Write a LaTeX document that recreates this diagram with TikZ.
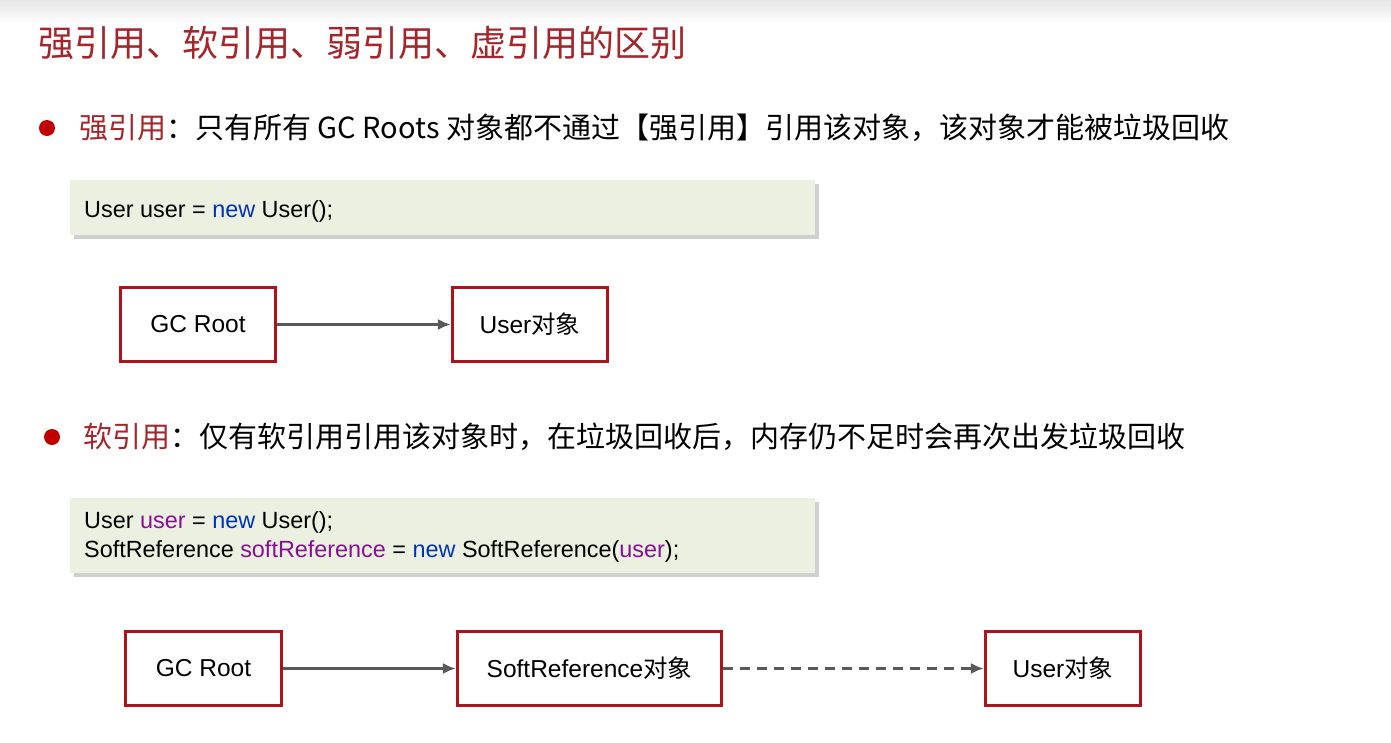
\documentclass[tikz,border=0pt]{standalone}
\usepackage{fontspec}
\setmainfont{Liberation Sans}
\newfontfamily\cjk{Noto Sans CJK SC}
\usetikzlibrary{arrows.meta}
\definecolor{titlered}{HTML}{A3262B}
\definecolor{dotred}{HTML}{C00000}
\definecolor{boxred}{HTML}{B0121B}
\definecolor{arrowgray}{HTML}{595959}
\definecolor{codebg}{HTML}{EBF0E0}
\definecolor{kwblue}{HTML}{0033B3}
\definecolor{varpurple}{HTML}{871094}
\tikzset{
  titletext/.style={anchor=west, inner sep=0pt, text=titlered, font=\cjk\fontsize{36}{40}\selectfont},
  bullettext/.style={anchor=west, inner sep=0pt, font=\cjk\fontsize{29}{34}\selectfont},
  codetext/.style={anchor=west, inner sep=0pt, font=\fontsize{23.4}{26}\selectfont},
  refbox/.style={draw=boxred, line width=3.2pt, fill=white, minimum height=74pt, inner sep=0pt, font=\fontsize{24.5}{28}\selectfont},
  codebox/.style={fill=codebg, draw=none},
  refarrow/.style={draw=arrowgray, line width=3pt, -{Latex[length=13pt,width=11pt]}},
  dot/.style={circle, fill=dotred, minimum size=16pt, inner sep=0pt}
}
\newcommand{\kw}[1]{\textcolor{kwblue}{#1}}
\newcommand{\var}[1]{\textcolor{varpurple}{#1}}
\begin{document}
\begin{tikzpicture}[x=1pt,y=-1pt]
\useasboundingbox (0,0) rectangle (1391,742);
\fill[white] (0,0) rectangle (1391,742);
\shade[top color=black!10, bottom color=white] (0,0) rectangle (1391,24);

% title
\node[titletext] (title) at (38,43) {强引用、软引用、弱引用、虚引用的区别};

% bullet 1
\node[dot] (dot1) at (47,128) {};
\node[bullettext] (b1) at (79,128) {\textcolor{titlered}{强引用}：只有所有 GC Roots 对象都不通过【强引用】引用该对象，该对象才能被垃圾回收};

% code box 1
\fill[black!30, opacity=0.6] (74,184) rectangle (819,239);
\fill[codebox] (70,180) rectangle (815,235);
\node[codetext] (c1) at (84,211) {User user = \kw{new} User();};

% row 1 boxes
\node[refbox, minimum width=155pt] (gc1) at (198,324.5) {GC Root};
\node[refbox, minimum width=155pt] (user1) at (530,324.5) {User{\cjk 对象}};
\draw[refarrow] (gc1) -- (user1);

% bullet 2
\node[dot] (dot2) at (52,437) {};
\node[bullettext] (b2) at (83,437) {\textcolor{titlered}{软引用}：仅有软引用引用该对象时，在垃圾回收后，内存仍不足时会再次出发垃圾回收};

% code box 2
\fill[black!30, opacity=0.6] (74,502) rectangle (819,577);
\fill[codebox] (70,498) rectangle (815,573);
\node[codetext] (c2a) at (84,522) {User \var{user} = \kw{new} User();};
\node[codetext] (c2b) at (84,551) {SoftReference \var{softReference} = \kw{new} SoftReference(\var{user});};

% row 2 boxes
\node[refbox, minimum width=156pt] (gc2) at (203.5,668.5) {GC Root};
\node[refbox, minimum width=264pt] (soft) at (589.5,668.5) {SoftReference{\cjk 对象}};
\node[refbox, minimum width=155pt] (user2) at (1063,668.5) {User{\cjk 对象}};
\draw[refarrow] (gc2) -- (soft);
\draw[refarrow, dash pattern=on 10pt off 7pt] (soft) -- (user2);
\end{tikzpicture}
\end{document}
